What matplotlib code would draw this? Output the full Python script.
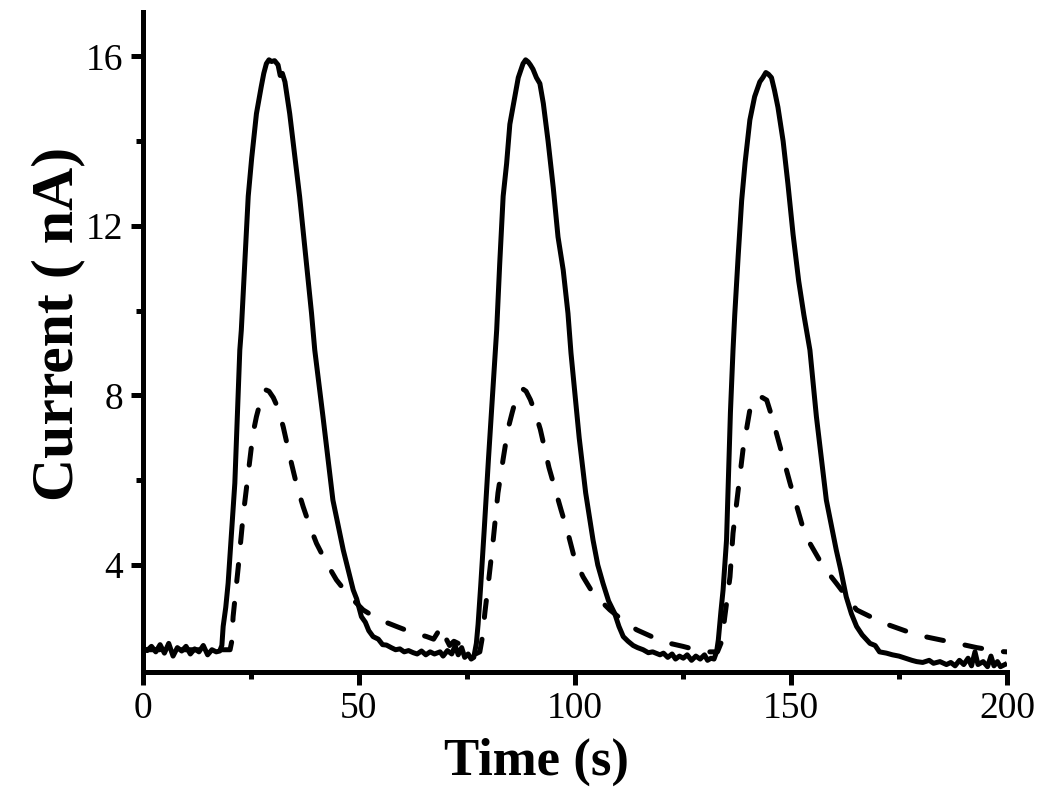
import matplotlib
matplotlib.use("Agg")
import matplotlib.pyplot as plt
from matplotlib.ticker import MultipleLocator

plt.rcParams.update({
    "font.family": "serif",
    "font.serif": ["Liberation Serif", "DejaVu Serif"],
})

# solid trace (three injections)
time_solid = [
    0, 1, 2, 3, 4, 5, 6, 7, 8, 9, 10, 11, 12, 13, 14, 15, 16, 17, 17.8,
    18.3, 18.6, 19.2, 19.75, 20.5, 21.3, 22.0, 22.45, 22.8, 23.6, 24.4, 25.2,
    26.3, 27.4, 28.0, 28.6, 29.2, 29.8, 30.5, 31.3, 31.8, 32.3, 32.9, 34.0,
    35.2, 36.3, 37.5, 39.05, 39.8, 41.7, 44.0, 46.4, 48.7, 49.5, 50.6, 51.5,
    52.3, 53.3, 54.5, 55.5, 56.4, 57.5, 58.5, 59.5, 60.5, 61.5, 62.6, 63.5,
    64.5, 65.5, 66.5, 67.5, 68.8, 69.5, 70.5, 71.5, 72.3, 73.0, 73.8, 74.5,
    75.3, 76.0, 76.6, 77.2, 77.6, 78.2, 79.0, 80.0, 81.0, 81.9, 82.6, 83.4,
    84.2, 84.95, 86.1, 86.9, 88.0, 88.6, 89.2, 89.7, 90.3, 91.1, 91.9, 92.7,
    93.8, 95.0, 96.1, 97.3, 98.4, 99.1, 101.0, 102.5, 104.2, 105.3, 106.5,
    107.8, 109.2, 110.2, 111.2, 112.3, 113.5, 114.5, 115.8, 117, 118, 119.7,
    120.5, 121.5, 122.5, 123.3, 124.2, 125.1, 126, 127, 128, 129, 130, 130.7,
    131.5, 132.2, 132.8, 133.2, 133.8, 134.3, 135.1, 135.5, 136.0, 136.6,
    137.0, 137.8, 138.6, 139.4, 140.5, 141.6, 142.8, 143.5, 144.2, 144.8,
    145.5, 146.2, 147.0, 148.2, 149.3, 150.5, 151.8, 153.0, 154.4, 155.9,
    158.2, 160.5, 161.5, 162.8, 164.0, 165.2, 166.5, 168.3, 169.5, 170.5,
    172.1, 173.5, 175, 176.5, 178, 179.1, 180.5, 182, 183, 184.5, 186, 187,
    188, 189, 190, 191, 191.8, 192.6, 193.3, 194.5, 195.5, 196.3, 197, 197.8,
    198.5, 199.5,
]
current_solid = [
    2.05, 1.98, 2.08, 1.95, 2.12, 1.92, 2.15, 1.85, 2.05, 1.97, 2.08, 1.90,
    2.02, 1.95, 2.10, 1.88, 2.00, 1.95, 1.97,
    2.10, 2.55, 3.00, 3.57, 4.70, 5.93, 7.80, 9.07, 9.54, 11.1, 12.7, 13.6,
    14.65, 15.28, 15.6, 15.83, 15.92, 15.88, 15.9, 15.8, 15.55, 15.6, 15.4,
    14.65, 13.63, 12.69, 11.5, 9.94, 9.07, 7.5, 5.53, 4.35, 3.41, 3.2, 2.78,
    2.65, 2.45, 2.31, 2.25, 2.12, 2.11, 2.05, 2.00, 2.02, 1.95, 1.98, 1.93,
    1.90, 1.97, 1.88, 1.95, 1.90, 1.95, 1.85, 1.98, 1.90, 2.10, 1.88, 2.05,
    1.82, 1.90, 1.78, 1.82, 2.15, 2.6, 3.5, 4.8, 6.5, 8.1, 9.54, 11.1, 12.7,
    13.47, 14.4, 15.05, 15.5, 15.83, 15.92, 15.87, 15.8, 15.7, 15.5, 15.36,
    14.89, 14.0, 12.9, 11.74, 10.96, 9.94, 9.0, 7.0, 5.7, 4.59, 4.0, 3.57,
    3.15, 2.86, 2.55, 2.31, 2.2, 2.1, 2.05, 2.0, 1.93, 1.95, 1.88, 1.92, 1.82,
    1.90, 1.78, 1.85, 1.80, 1.88, 1.75, 1.85, 1.78, 1.88, 1.75, 1.80, 1.78,
    1.95, 2.23, 2.9, 3.41, 4.59, 5.93, 7.6, 9.07, 9.9, 11.3, 12.6, 13.5, 14.5,
    15.05, 15.4, 15.5, 15.62, 15.58, 15.5, 15.2, 14.8, 14.0, 13.0, 11.8, 10.7,
    9.9, 9.07, 7.5, 5.53, 4.35, 3.9, 3.25, 2.85, 2.55, 2.35, 2.15, 2.1, 1.95,
    1.92, 1.88, 1.85, 1.80, 1.75, 1.72, 1.70, 1.75, 1.68, 1.72, 1.65, 1.70,
    1.62, 1.75, 1.65, 1.80, 1.62, 1.95, 1.65, 1.72, 1.60, 1.85, 1.62, 1.72,
    1.60, 1.65,
]

# dashed trace
time_dash = [
    0, 20.2, 20.6, 20.9, 22.1, 23.2, 24.4, 25.5, 26.3, 27.1, 27.8, 28.5, 29.2,
    30.2, 31.3, 32.5, 33.4, 34.4, 35.7, 37.1, 38.6, 40.2, 42.5, 44.8, 47.5,
    51.0, 54.5, 58.7, 62, 65.7, 67.3, 68.4, 69.0, 70.0, 71.0, 72.0, 73.0,
    74.0, 75.5, 77.0, 78.0, 78.6, 79.2, 79.9, 81.1, 82.2, 83.4, 84.5, 85.5,
    86.3, 87.2, 88.0, 88.7, 89.7, 90.8, 92.0, 93.0, 94.0, 95.4, 96.8, 98.4,
    100.0, 101.9, 103.8, 105.8, 108.1, 111, 114.3, 118, 122, 125, 128, 131,
    133, 134.0, 134.7, 135.9, 136.6, 137.8, 138.9, 140.5, 141.3, 142.3, 143.4,
    144.4, 145.6, 147.5, 149.8, 152.5, 154.4, 157.5, 160.5, 165.2, 171.4,
    179.1, 188.5, 193, 198.4, 200,
]
current_dash = [
    2.0, 2.0, 2.2, 2.78, 3.96, 5.14, 6.16, 7.1, 7.5, 7.81, 8.05, 8.13, 8.1,
    7.95, 7.7, 7.26, 6.85, 6.4, 5.85, 5.38, 4.93, 4.51, 4.05, 3.65, 3.3,
    2.94, 2.72, 2.55, 2.42, 2.31, 2.25, 2.43, 2.55, 2.3, 2.1, 2.2, 2.15,
    2.0, 1.95, 1.9, 1.95, 2.3, 2.9, 3.5, 4.59, 5.7, 6.5, 7.2, 7.6,
    7.9, 8.1, 8.15, 8.1, 7.9, 7.6, 7.2, 6.75, 6.3, 5.8, 5.3, 4.75,
    4.12, 3.72, 3.4, 3.17, 2.94, 2.7, 2.47, 2.3, 2.15, 2.08, 2.0, 1.95,
    1.95, 2.2, 2.78, 3.72, 4.75, 5.77, 6.71, 7.66, 7.89, 7.98, 7.95,
    7.89, 7.5, 6.79, 5.93, 4.98, 4.51, 3.96, 3.57, 2.94, 2.63,
    2.35, 2.15, 2.05, 1.96, 1.95,
]

fig = plt.figure(figsize=(10.5, 7.95), dpi=100)
ax = fig.add_axes([0.136, 0.155, 0.823, 0.83])

ax.plot(time_solid, current_solid, color="black", lw=3.6, solid_joinstyle="round")
ax.plot(time_dash, current_dash, color="black", lw=3.6,
        linestyle=(0, (3.4, 4.4)), dash_capstyle="round")

ax.set_xlim(0, 200)
ax.set_ylim(1.48, 17.05)
ax.xaxis.set_major_locator(MultipleLocator(50))
ax.xaxis.set_minor_locator(MultipleLocator(25))
ax.set_yticks([4, 8, 12, 16])
ax.set_yticks([6, 10, 14], minor=True)

for side in ("top", "right"):
    ax.spines[side].set_visible(False)
for side in ("left", "bottom"):
    ax.spines[side].set_linewidth(3.6)

ax.tick_params(which="major", direction="out", length=9, width=3.6,
               labelsize=27, pad=5)
ax.tick_params(which="minor", direction="out", length=5, width=3.6)

ax.set_xlabel("Time (s)", fontsize=38, fontweight="bold")
ax.set_ylabel("Current ( nA)", fontsize=43, fontweight="bold")
ax.xaxis.set_label_coords(0.456, -0.100)
ax.yaxis.set_label_coords(-0.067, 0.527)

fig.savefig("out.png", dpi=100)
